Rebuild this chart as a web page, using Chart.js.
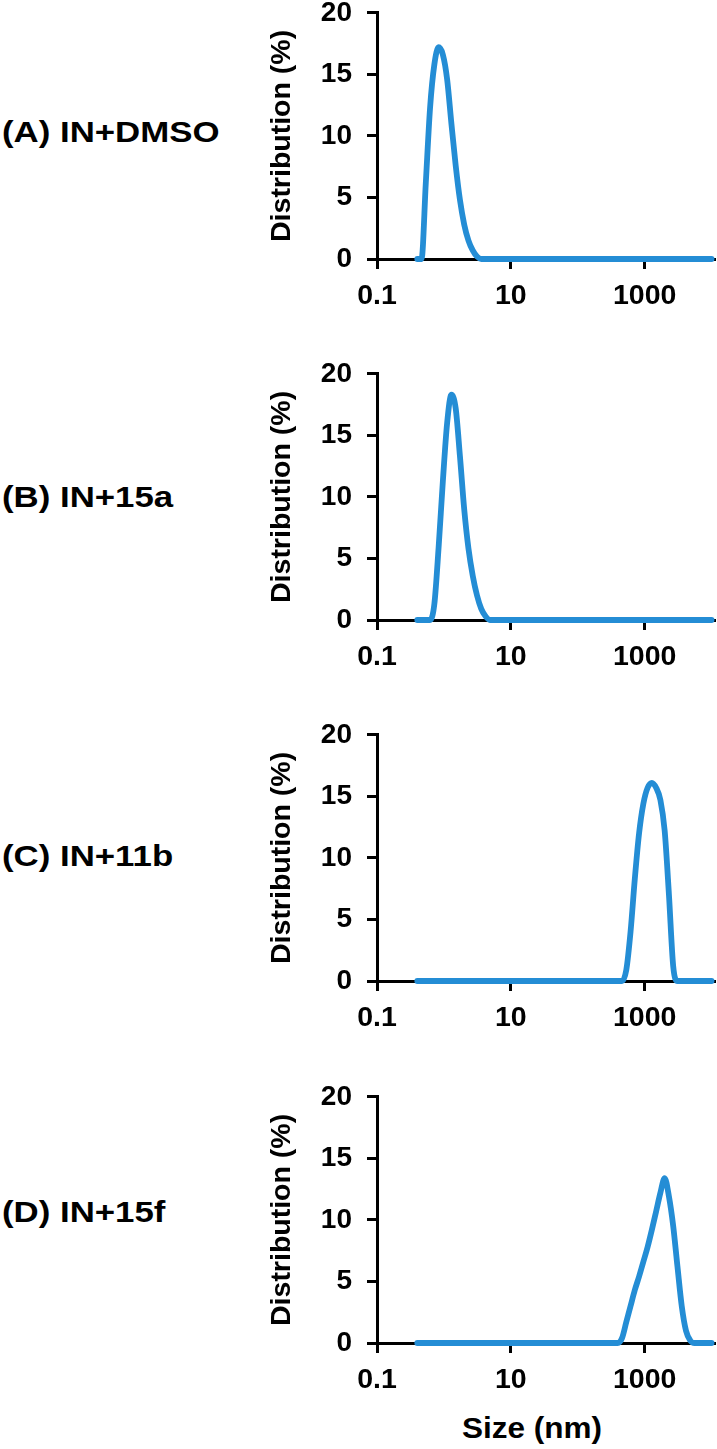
<!DOCTYPE html>
<html><head><meta charset="utf-8">
<script src="https://cdn.jsdelivr.net/npm/chart.js@4.4.0/dist/chart.umd.min.js"></script>
<style>
html,body{margin:0;padding:0;background:#fff;}
body{width:717px;height:1449px;position:relative;overflow:hidden;font-family:"Liberation Sans",Arial,sans-serif;}
.lab{position:absolute;left:2px;font-weight:bold;font-size:30px;line-height:1;transform-origin:0 0;transform:scaleX(1.16);white-space:nowrap;color:#000;}
.xt{position:absolute;left:532px;top:1413px;font-weight:bold;font-size:30px;line-height:1;transform:translateX(-50%) scaleX(1.05);white-space:nowrap;color:#000;}
.wrap{position:absolute;left:250px;width:467px;}
canvas{display:block;}
</style></head><body>
<script>
// Size bins (nm)
const sizes = [0.4, 0.4632, 0.5365, 0.6213, 0.7195, 0.8332, 0.9649, 1.117, 1.294, 1.499,
  1.736, 2.01, 2.328, 2.696, 3.122, 3.615, 4.187, 4.849, 5.615, 6.503,
  7.531, 8.721, 10.1, 11.7, 13.54, 15.69, 18.17, 21.04, 24.36, 28.21,
  32.67, 37.84, 43.82, 50.75, 58.77, 68.06, 78.82, 91.28, 105.7, 122.4,
  141.8, 164.2, 190.1, 220.2, 255, 295.3, 342, 396.1, 458.7, 531.2,
  615.1, 712.4, 825, 955.4, 1106, 1281, 1484, 1718, 1990, 2305,
  2669, 3091, 3580, 4145, 4801, 5560, 6439, 7456, 8635, 10000];

// Distribution (%) per panel
const distA = [0, 0, 6.2, 12.3, 15.8, 17.2, 16.6, 14.6, 11.0, 7.6,
  4.8, 2.8, 1.5, 0.7, 0.2, 0, 0, 0, 0, 0,
  0, 0, 0, 0, 0, 0, 0, 0, 0, 0,
  0, 0, 0, 0, 0, 0, 0, 0, 0, 0,
  0, 0, 0, 0, 0, 0, 0, 0, 0, 0,
  0, 0, 0, 0, 0, 0, 0, 0, 0, 0,
  0, 0, 0, 0, 0, 0, 0, 0, 0, 0];
const distB = [0, 0, 0, 0, 1.3, 5.9, 11.3, 16.0, 18.3, 17.2,
  13.3, 9.0, 5.8, 3.6, 2.0, 0.9, 0.3, 0, 0, 0,
  0, 0, 0, 0, 0, 0, 0, 0, 0, 0,
  0, 0, 0, 0, 0, 0, 0, 0, 0, 0,
  0, 0, 0, 0, 0, 0, 0, 0, 0, 0,
  0, 0, 0, 0, 0, 0, 0, 0, 0, 0,
  0, 0, 0, 0, 0, 0, 0, 0, 0, 0];
const distC = [0, 0, 0, 0, 0, 0, 0, 0, 0, 0,
  0, 0, 0, 0, 0, 0, 0, 0, 0, 0,
  0, 0, 0, 0, 0, 0, 0, 0, 0, 0,
  0, 0, 0, 0, 0, 0, 0, 0, 0, 0,
  0, 0, 0, 0, 0, 0, 0, 0, 0, 0.9,
  4.0, 8.3, 12.0, 14.4, 15.7, 16.1, 15.7, 14.7, 12.2, 7.0,
  1.2, 0, 0, 0, 0, 0, 0, 0, 0, 0];
const distD = [0, 0, 0, 0, 0, 0, 0, 0, 0, 0,
  0, 0, 0, 0, 0, 0, 0, 0, 0, 0,
  0, 0, 0, 0, 0, 0, 0, 0, 0, 0,
  0, 0, 0, 0, 0, 0, 0, 0, 0, 0,
  0, 0, 0, 0, 0, 0, 0, 0, 0.4, 1.7,
  3.0, 4.3, 5.4, 6.6, 7.8, 9.2, 10.7, 12.2, 13.4, 11.9,
  9.5, 6.2, 3.0, 1.0, 0.2, 0, 0, 0, 0, 0];

const panelNames = ['(A) IN+DMSO', '(B) IN+15a', '(C) IN+11b', '(D) IN+15f'];
const xTickValues = [0.1, 10, 1000];
const yTickValues = [0, 5, 10, 15, 20];
const yTitle = 'Distribution (%)';
const xTitle = 'Size (nm)';

// layout
const FAM = '"Liberation Sans", Arial, sans-serif';
const BLUE = '#248DD5';
const plotTops = [12.3, 373.5, 735, 1097];
const labelTops = [117, 482, 841, 1197];
const PLOT_H = 246;
const PAD_TOP = 20;

const series = [distA, distB, distC, distD];

const xt = document.createElement('div');
xt.className = 'xt';
xt.textContent = xTitle;
document.body.appendChild(xt);

series.forEach((vals, p) => {
  const lab = document.createElement('div');
  lab.className = 'lab';
  lab.style.top = labelTops[p] + 'px';
  lab.textContent = panelNames[p];
  document.body.appendChild(lab);

  const xH = 60;
  const wrap = document.createElement('div');
  wrap.className = 'wrap';
  const cv = document.createElement('canvas');
  cv.width = 467; cv.height = PAD_TOP + PLOT_H + xH;
  cv.style.width = '467px'; cv.style.height = cv.height + 'px';
  wrap.appendChild(cv);
  document.body.appendChild(wrap);

  const ch = new Chart(cv, {
    type: 'line',
    data: {
      datasets: [{
        data: sizes.map((s, i) => ({x: s, y: vals[i]})),
        borderColor: BLUE,
        borderWidth: 5.8,
        pointRadius: 0,
        cubicInterpolationMode: 'monotone',
        fill: false,
        clip: false,
        borderCapStyle: 'round',
        borderJoinStyle: 'round'
      }]
    },
    options: {
      responsive: false,
      maintainAspectRatio: false,
      animation: false,
      devicePixelRatio: 1,
      layout: {padding: {top: PAD_TOP, left: 0, right: 0, bottom: 0}},
      plugins: {legend: {display: false}, tooltip: {enabled: false}},
      scales: {
        x: {
          type: 'logarithmic', min: 0.1, max: 10900, position: 'bottom',
          afterBuildTicks: s => { s.ticks = xTickValues.map(v => ({value: v})); },
          afterFit: s => { s.height = xH; },
          ticks: {color: '#000', font: {family: FAM, size: 28.5, weight: 'bold'}, padding: 10,
                  maxRotation: 0, autoSkip: false, callback: v => String(v)},
          grid: {display: true, drawOnChartArea: false, drawTicks: true, tickLength: 10, color: '#000', lineWidth: 3},
          border: {display: true, color: '#000', width: 3}
        },
        y: {
          min: 0, max: 20,
          afterBuildTicks: s => { s.ticks = yTickValues.map(v => ({value: v})); },
          afterFit: s => { s.width = 127; },
          ticks: {color: '#000', font: {family: FAM, size: 28, weight: 'bold'}, padding: 15},
          grid: {display: true, drawOnChartArea: false, drawTicks: true, tickLength: 10, color: '#000', lineWidth: 3},
          border: {display: true, color: '#000', width: 3},
          title: {display: true, text: yTitle, color: '#000',
                  font: {family: FAM, size: 28.5, weight: 'bold'}, padding: {top: 15, bottom: 0}}
        }
      }
    }
  });

  // align plot area to the reference frame: fix top offset and plot height
  const ct = ch.chartArea.top;
  const newH = Math.round(ct + PLOT_H + xH);
  ch.resize(467, newH);
  const ct2 = ch.chartArea.top;
  wrap.style.top = (plotTops[p] - ct2) + 'px';
});
</script>
</body></html>
